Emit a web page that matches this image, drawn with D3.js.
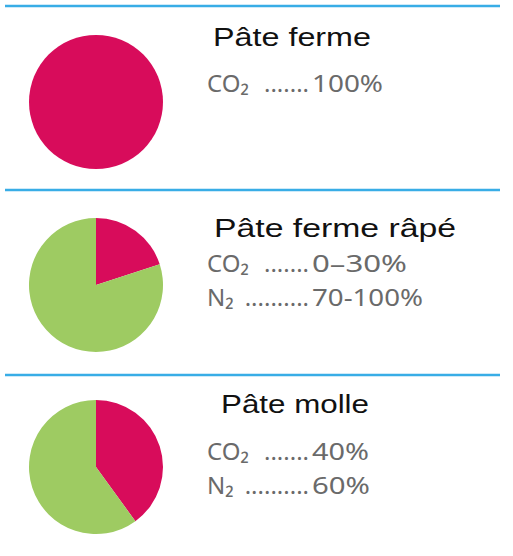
<!DOCTYPE html>
<html>
<head>
<meta charset="utf-8">
<script src="https://cdn.jsdelivr.net/npm/d3@7"></script>
<style>
  html, body { margin: 0; padding: 0; background: #ffffff; }
  svg { display: block; }
</style>
</head>
<body>
<svg id="chart" width="513" height="556"></svg>
<script>
// Gas mixtures used for packaging each kind of cheese
const products   = ["Pâte ferme", "Pâte ferme râpé", "Pâte molle"];
const gasNames   = ["CO₂", "N₂"];
const co2Share   = [100, 20, 40];        // slice sizes, %
const n2Share    = [0, 80, 60];
const co2Labels  = ["100%", "0–30%", "40%"];
const n2Labels   = [null, "70-100%", "60%"];
const leaderDots = [7, 10];              // dot leaders per gas row

const gasColors = ["#d80c5b", "#9ecb62"];

const svg = d3.select("#chart");

// vertical layout of the three bands
const bandTop     = [6, 190, 375];
const pieCenterY  = [102, 285, 467];
const titleY      = [46, 237, 413];
const titleX      = [213, 214, 221];
const titleWidth  = [158, 242, 148];
const rowY        = [[92], [272, 306], [460, 494]];
// printed width of each value string, per band and row
const valueWidth  = [[71], [95, 111], [57, 58]];

const pieX = 96, radius = 67;
const textX = 207, dotsEndX = 309, valueX = 312;
const bodyFont = "'Noto Sans', 'Open Sans', sans-serif";

const pie = d3.pie().sort(null).value(d => d.value);
const arc = d3.arc().innerRadius(0).outerRadius(radius);

// blue separators
svg.selectAll("line.sep")
  .data(bandTop)
  .join("line")
  .attr("class", "sep")
  .attr("x1", 5).attr("x2", 500)
  .attr("y1", d => d).attr("y2", d => d)
  .attr("stroke", "#38ade6")
  .attr("stroke-width", 2.5);

products.forEach((name, i) => {
  const g = svg.append("g");

  const slices = [
    { gas: 0, value: co2Share[i] },
    { gas: 1, value: n2Share[i] }
  ].filter(d => d.value > 0);

  g.append("g")
    .attr("transform", `translate(${pieX},${pieCenterY[i]})`)
    .selectAll("path")
    .data(pie(slices))
    .join("path")
    .attr("d", arc)
    .attr("fill", d => gasColors[d.data.gas]);

  g.append("text")
    .attr("x", titleX[i])
    .attr("y", titleY[i])
    .attr("font-family", "'Liberation Sans', Arial, sans-serif")
    .attr("font-size", 26)
    .attr("fill", "#111111")
    .attr("textLength", titleWidth[i])
    .attr("lengthAdjust", "spacingAndGlyphs")
    .text(name);

  const rows = [co2Labels[i], n2Labels[i]]
    .map((v, k) => ({ gas: k, label: v }))
    .filter(d => d.label !== null);

  rows.forEach((r, k) => {
    const y = rowY[i][k];
    const body = sel => sel
      .attr("y", y)
      .attr("font-family", bodyFont)
      .attr("font-size", 24)
      .attr("fill", "#6a6a6a");

    g.append("text").call(body)
      .attr("x", textX)
      .text(gasNames[r.gas]);

    g.append("text").call(body)
      .attr("x", dotsEndX)
      .attr("text-anchor", "end")
      .text(".".repeat(leaderDots[r.gas]));

    g.append("text").call(body)
      .attr("x", valueX)
      .attr("textLength", valueWidth[i][k])
      .attr("lengthAdjust", "spacingAndGlyphs")
      .text(r.label);
  });
});
</script>
</body>
</html>
